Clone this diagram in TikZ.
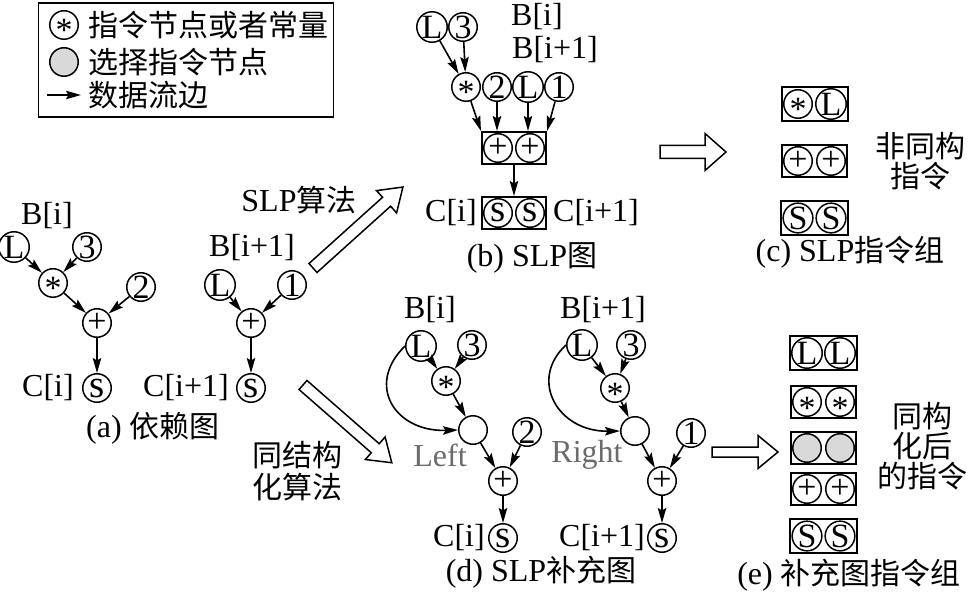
\documentclass[tikz,border=0pt]{standalone}
\usepackage{fontspec}
\setmainfont{Liberation Serif}
\newfontfamily\cjkfont{Noto Sans CJK SC}
\usetikzlibrary{arrows.meta,fit}
\definecolor{selgray}{gray}{0.85}
\definecolor{lblgray}{gray}{0.42}
\newcommand\zhtxt[1]{{\cjkfont\fontsize{30}{30}\selectfont #1}}
\newcommand\astk{\smash{\raisebox{-0.5em}{*}}}
\newcommand\lows{{\fontsize{39}{39}\selectfont s}}
\newcommand\hollowarr[6]{%
  \begin{scope}[shift={#1},rotate=#2]
    \draw[line width=1.5pt,line join=miter,fill=white]
      (0,-#4) -- (#3-#6,-#4) -- (#3-#6,-#5) -- (#3,0) -- (#3-#6,#5)
      -- (#3-#6,#4) -- (0,#4) -- cycle;
  \end{scope}}
\begin{document}
\begin{tikzpicture}[x=1pt,y=-1pt,
  nd/.style={circle,draw,line width=1.5pt,minimum size=28.5pt,inner sep=0pt,
    font=\fontsize{34}{34}\selectfont},
  sel/.style={nd,fill=selgray},
  lab/.style={inner sep=0pt,font=\fontsize{32}{32}\selectfont},
  cn/.style={inner sep=0pt,font=\cjkfont\fontsize{30}{30}\selectfont},
  grp/.style={draw,line width=1.7pt,inner sep=1.2pt,rectangle},
  ar/.style={-{Stealth[length=15pt,width=8.5pt,inset=2.5pt]},line width=1.6pt},
  gl/.style={lab,text=lblgray}]
\useasboundingbox (0,0) rectangle (969,596);

% ---------- legend
\node[draw,line width=1.7pt,inner sep=0pt,minimum width=295pt,minimum height=114pt] (legend) at (186,60) {};
\node[nd] (lg1) at (64,25) {\astk};
\node[sel] (lg2) at (64,62) {};
\coordinate (lga) at (47,95);
\coordinate (lgb) at (81,95);
\draw[ar] (lga) -- (lgb);
\node[cn,anchor=west] (lgt1) at (88,25) {指令节点或者常量};
\node[cn,anchor=west] (lgt2) at (88,62) {选择指令节点};
\node[cn,anchor=west] (lgt3) at (88,95) {数据流边};

% ---------- (a)
\node[lab] (aB) at (47,216) {B[i]};
\node[nd] (aL) at (14,247) {L};
\node[nd] (a3) at (87,247) {3};
\node[nd] (aM) at (53,283) {\astk};
\node[nd] (a2) at (141,287) {2};
\node[nd] (aP) at (97,323) {+};
\node[nd] (aS) at (97,388) {\lows};
\node[lab] (aC) at (48,388) {C[i]};
\draw[ar] (aL) -- (aM);
\draw[ar] (a3) -- (aM);
\draw[ar] (aM) -- (aP);
\draw[ar] (a2) -- (aP);
\draw[ar] (aP) -- (aS);

\node[lab] (aB1) at (252,248) {B[i+1]};
\node[nd] (aL1) at (220,285) {L};
\node[nd] (a1) at (292,285) {1};
\node[nd] (aP1) at (251,323) {+};
\node[nd] (aS1) at (251,388) {\lows};
\node[lab] (aC1) at (186,388) {C[i+1]};
\draw[ar] (aL1) -- (aP1);
\draw[ar] (a1) -- (aP1);
\draw[ar] (aP1) -- (aS1);
\node[lab] (capa) at (153,428) {(a) \zhtxt{依赖图}};

% ---------- arrows between parts
\node[lab] (slpalg) at (299,200) {SLP\zhtxt{算法}};
\hollowarr{(313,268)}{42}{121}{6}{15}{22}
\node[cn,align=center] (isoalg) at (297,471) {同结构\\[2pt]化算法};
\hollowarr{(303,385)}{-41.2}{118}{6}{15}{22}

% ---------- (b)
\node[nd] (bL) at (432,27) {L};
\node[nd] (b3) at (463,27) {3};
\node[lab] (bB) at (537,17) {B[i]};
\node[lab] (bB1) at (555,50) {B[i+1]};
\node[nd] (bM) at (466,87) {\astk};
\node[nd] (b2) at (497,87) {2};
\node[nd] (bL2) at (528,87) {L};
\node[nd] (b1) at (559,87) {1};
\node[nd] (bP1) at (498,148) {+};
\node[nd] (bP2) at (530,148) {+};
\node[grp,fit=(bP1)(bP2)] (bPbox) {};
\node[nd] (bS1) at (498,213) {\lows};
\node[nd] (bS2) at (530,213) {\lows};
\node[grp,fit=(bS1)(bS2)] (bSbox) {};
\node[lab] (bC) at (451,213) {C[i]};
\node[lab] (bC1) at (596,213) {C[i+1]};
\draw[ar] (bL) -- (bM);
\draw[ar] (b3) -- (bM);
\draw[ar] (bM) -- (bPbox.north west);
\draw[ar] (b2) -- (b2 |- bPbox.north);
\draw[ar] (bL2) -- (bL2 |- bPbox.north);
\draw[ar] (b1) -- (bPbox.north east);
\draw[ar] (bPbox.south) -- (bSbox.north);
\node[lab] (capb) at (532,258) {(b) SLP\zhtxt{图}};

% ---------- (c)
\hollowarr{(660,152)}{0}{66}{6.5}{18.5}{21}
\node[nd] (cM) at (798,104) {\astk};
\node[nd] (cL) at (831,104) {L};
\node[grp,fit=(cM)(cL)] (cbox1) {};
\node[nd] (cP1) at (798,161) {+};
\node[nd] (cP2) at (831,161) {+};
\node[grp,fit=(cP1)(cP2)] (cbox2) {};
\node[nd] (cS1) at (798,218) {S};
\node[nd] (cS2) at (831,218) {S};
\node[grp,fit=(cS1)(cS2)] (cbox3) {};
\node[cn,align=center] (cnote) at (920,161) {非同构\\指令};
\node[lab] (capc) at (850,252) {(c) SLP\zhtxt{指令组}};

% ---------- (d) left
\node[lab] (dB) at (430,310) {B[i]};
\node[nd] (dL) at (421,346) {L};
\node[nd] (d3) at (472,345) {3};
\node[nd] (dM) at (446,381) {\astk};
\node[nd] (dE) at (473,430) {};
\node[nd] (d2) at (527,432) {2};
\node[gl] (dLeft) at (440,455) {Left};
\node[nd] (dP) at (503,481) {+};
\node[nd] (dS) at (503,538) {\lows};
\node[lab] (dC) at (459,538) {C[i]};
\draw[ar] (dL) -- (dM);
\draw[ar] (d3) -- (dM);
\draw[ar] (dM) -- (dE);
\draw[ar] (dE) -- (dP);
\draw[ar] (d2) -- (dP);
\draw[ar] (dP) -- (dS);
\draw[ar] (dL.west) .. controls (365,385) and (395,432) .. (dE.west);

% ---------- (d) right
\node[lab] (rB) at (603,310) {B[i+1]};
\node[nd] (rL) at (582,345) {L};
\node[nd] (r3) at (631,345) {3};
\node[nd] (rM) at (615,388) {\astk};
\node[nd] (rE) at (635,431) {};
\node[nd] (r1) at (691,433) {1};
\node[gl] (rRight) at (587,455) {Right};
\node[nd] (rP) at (662,481) {+};
\node[nd] (rS) at (662,538) {\lows};
\node[lab] (rC) at (602,538) {C[i+1]};
\draw[ar] (rL) -- (rM);
\draw[ar] (r3) -- (rM);
\draw[ar] (rM) -- (rE);
\draw[ar] (rE) -- (rP);
\draw[ar] (r1) -- (rP);
\draw[ar] (rP) -- (rS);
\draw[ar] (rL.west) .. controls (528,380) and (558,432) .. (rE.west);
\node[lab] (capd) at (541,572) {(d) SLP\zhtxt{补充图}};

% ---------- (e)
\hollowarr{(712,452)}{0}{66}{5}{16.5}{20}
\node[nd] (eL1) at (807,353) {L};
\node[nd] (eL2) at (840,353) {L};
\node[grp,fit=(eL1)(eL2)] (ebox1) {};
\node[nd] (eM1) at (807,402) {\astk};
\node[nd] (eM2) at (840,402) {\astk};
\node[grp,fit=(eM1)(eM2)] (ebox2) {};
\node[sel] (eG1) at (807,448) {};
\node[sel] (eG2) at (840,448) {};
\node[grp,fit=(eG1)(eG2)] (ebox3) {};
\node[nd] (eP1) at (807,489) {+};
\node[nd] (eP2) at (840,489) {+};
\node[grp,fit=(eP1)(eP2)] (ebox4) {};
\node[nd] (eS1) at (807,536) {S};
\node[nd] (eS2) at (840,536) {S};
\node[grp,fit=(eS1)(eS2)] (ebox5) {};
\node[cn,align=center] (enote) at (922,446) {同构\\化后\\的指令};
\node[lab] (cape) at (849,575) {(e) \zhtxt{补充图指令组}};
\end{tikzpicture}
\end{document}
